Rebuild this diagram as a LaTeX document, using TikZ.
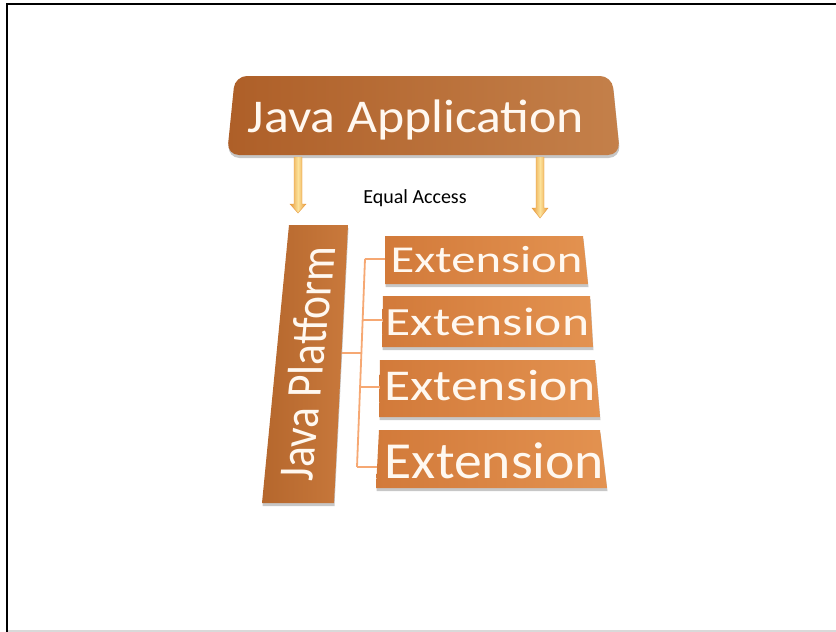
\documentclass[tikz,border=0pt]{standalone}
\usepackage{fontspec}
\setmainfont{Carlito}
\definecolor{appL}{HTML}{AE5F28}
\definecolor{appR}{HTML}{C4804A}
\definecolor{platL}{HTML}{B5672D}
\definecolor{platR}{HTML}{C9793C}
\definecolor{extL}{HTML}{D27A3A}
\definecolor{extR}{HTML}{E39250}
\definecolor{linkc}{HTML}{F6A873}
\definecolor{arrEdge}{HTML}{E89A3C}
\definecolor{arrMid}{HTML}{FCE29A}
\definecolor{txtc}{HTML}{FFF8F0}
\tikzset{
  boxshadow/.style={preaction={fill=black, opacity=0.22, transform canvas={yshift=-3pt, xshift=0.5pt}}},
  appbox/.style={boxshadow, left color=appL, right color=appR, rounded corners=12pt},
  platbox/.style={boxshadow, left color=platL, right color=platR},
  extbox/.style={boxshadow, left color=extL, right color=extR},
  boxtext/.style={text=txtc, inner sep=0pt, anchor=base},
  link/.style={draw=linkc, line width=1.8pt},
  downarrow/.style={left color=arrEdge, right color=arrEdge, middle color=arrMid, draw=arrEdge, line width=0.4pt},
  labeltext/.style={text=black, inner sep=0pt, anchor=base, font=\fontsize{20}{22}\selectfont}
}
\begin{document}
\begin{tikzpicture}[x=1pt,y=-1pt]
\useasboundingbox (0,0) rectangle (836,632);
\fill[white] (0,0) rectangle (836,632);
% frame
\draw[black, line width=2.4pt] (7,632) -- (7,4) -- (836,4);
\draw[black!15, line width=1.2pt] (8,631) -- (836,631);

% Java Application box
\path[appbox] (235,76) -- (612,76) -- (620,155) -- (227,155) -- cycle;
\node[boxtext, font=\fontsize{47}{50}\selectfont] (app) at (416,132) {\scalebox{1.1}[1]{Java Application}};

% arrows
\path[downarrow] (294,157) -- (302,157) -- (302,204) -- (306,204) -- (298,213) -- (290,204) -- (294,204) -- cycle;
\path[downarrow] (536,157) -- (544,157) -- (544,208) -- (548,208) -- (540,218) -- (532,208) -- (536,208) -- cycle;

% label
\node[labeltext] (eq) at (415,203) {Equal Access};

% Java Platform
\path[platbox] (289,225) -- (348,225) -- (334,503) -- (262,503) -- cycle;
\node[boxtext, cm={0.0857,0.87,-1,0,(0,0)}, font=\fontsize{50}{52}\selectfont] (plat) at (324,364) {Java Platform};

% Extensions
\path[extbox] (385,236) -- (583,236) -- (588,284) -- (385,284) -- cycle;
\path[extbox] (383,296) -- (590,296) -- (593,347) -- (382,347) -- cycle;
\path[extbox] (380,360) -- (595,360) -- (600,417) -- (379,417) -- cycle;
\path[extbox] (379,430) -- (600,430) -- (607,488) -- (376,488) -- cycle;
\node[boxtext, font=\fontsize{38}{40}\selectfont] (e1) at (486.5,272) {\scalebox{1.28}[1]{Extension}};
\node[boxtext, font=\fontsize{40}{42}\selectfont] (e2) at (487.5,335) {\scalebox{1.29}[1]{Extension}};
\node[boxtext, font=\fontsize{44}{46}\selectfont] (e3) at (490,400) {\scalebox{1.22}[1]{Extension}};
\node[boxtext, font=\fontsize{52}{54}\selectfont] (e4) at (494.5,478) {\scalebox{1.07}[1]{Extension}};

% connectors
\coordinate (pR) at (341.5,353);
\coordinate (j0) at (362,353);
\coordinate (j1) at (365,259);
\coordinate (j2) at (363,320);
\coordinate (j3) at (360,387);
\coordinate (j4) at (357,467);
\coordinate (x1) at (385,259);
\coordinate (x2) at (383,320);
\coordinate (x3) at (380,387);
\coordinate (x4) at (377,467);
\draw[link] (pR) -- (j0);
\draw[link] (j1) -- (j4);
\draw[link] (j1) -- (x1);
\draw[link] (j2) -- (x2);
\draw[link] (j3) -- (x3);
\draw[link] (j4) -- (x4);
\end{tikzpicture}
\end{document}
